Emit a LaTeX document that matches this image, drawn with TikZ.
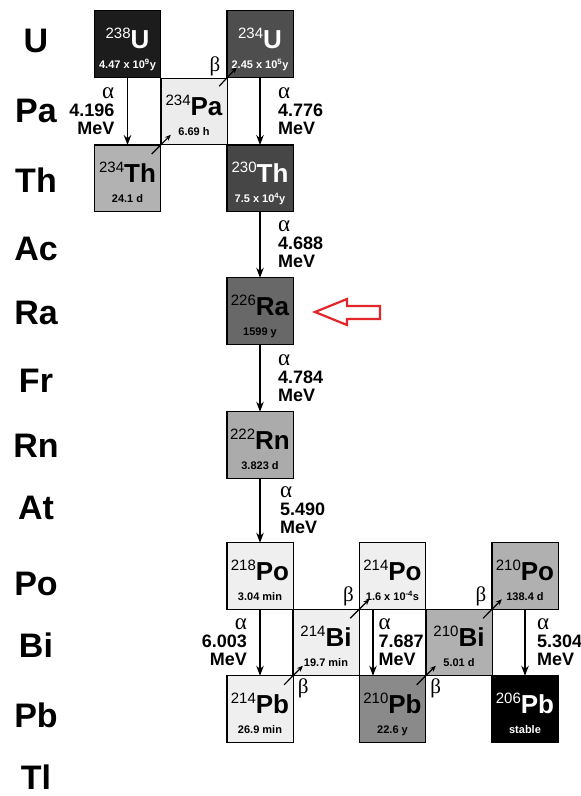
\documentclass[tikz,border=0pt]{standalone}
\usepackage{fontspec}
\setmainfont{Liberation Sans}
\newfontfamily\tms{Liberation Serif}
\usetikzlibrary{arrows.meta,calc}
\definecolor{cUa}{HTML}{1C1C1C}
\definecolor{cUb}{HTML}{4E4E4E}
\definecolor{cPa}{HTML}{ECECEC}
\definecolor{cTha}{HTML}{B2B2B2}
\definecolor{cThb}{HTML}{464646}
\definecolor{cRa}{HTML}{686868}
\definecolor{cRn}{HTML}{ABABAB}
\definecolor{cLight}{HTML}{EFEFEF}
\definecolor{cPbb}{HTML}{8A8A8A}
\definecolor{cMid}{HTML}{B0B0B0}
\definecolor{cRed}{HTML}{E3262A}
\newcommand\nuc[3]{\vbox to 66pt{\offinterlineskip\kern37pt
  \hbox to66pt{\hss\smash{\raisebox{10pt}{\fontsize{15}{15}\selectfont\mdseries#1}\fontsize{26}{26}\selectfont\bfseries #2}\hss}\kern20pt
  \hbox to66pt{\hss\smash{\fontsize{11}{11}\selectfont\bfseries#3}\hss}\vss}}
\newcommand\alp{{\tms\mdseries\fontsize{23}{18}\selectfont α}}
\begin{document}
\begin{tikzpicture}[x=1pt,y=-1pt,
  nbox/.style={draw, line width=1.3pt, inner sep=0pt, outer sep=0pt, minimum width=66.3pt, minimum height=66.5pt},
  elname/.style={font=\fontsize{34}{34}\selectfont\bfseries, anchor=base, inner sep=0pt},
  alphaarr/.style={line width=1.2pt, -{Stealth[length=10pt,width=7.5pt]}},
  betaarr/.style={line width=1.2pt, -{Stealth[length=6pt,width=5pt]}},
  enR/.style={anchor=west, align=left, inner sep=0pt, font=\fontsize{18}{18}\selectfont\bfseries},
  enL/.style={anchor=east, align=right, inner sep=0pt, font=\fontsize{18}{18}\selectfont\bfseries},
  betalab/.style={inner sep=0pt, font=\tms\fontsize{21}{21}\selectfont}]
\useasboundingbox (0,0) rectangle (581,796);
% element names
\node[elname] (lU)  at (36,52.5) {U};
\node[elname] (lPa) at (36,122.5) {Pa};
\node[elname] (lTh) at (36,192.5) {Th};
\node[elname] (lAc) at (36,260.5) {Ac};
\node[elname] (lRa) at (36,324.5) {Ra};
\node[elname] (lFr) at (36,392.5) {Fr};
\node[elname] (lRn) at (36,457.5) {Rn};
\node[elname] (lAt) at (36,519.5) {At};
\node[elname] (lPo) at (36,595) {Po};
\node[elname] (lBi) at (36,657.5) {Bi};
\node[elname] (lPb) at (36,727) {Pb};
\node[elname] (lTl) at (36,789) {Tl};
% nuclide boxes
\node[nbox, fill=cUa, text=white] (u238) at (127.5,44) {\nuc{238}{U}{4.47 x 10\textsuperscript{9}y}};
\node[nbox, fill=cPa] (pa234) at (194,111.5) {\nuc{234}{Pa}{6.69 h}};
\node[nbox, fill=cUb, text=white] (u234) at (260,44) {\nuc{234}{U}{2.45 x 10\textsuperscript{5}y}};
\node[nbox, fill=cTha] (th234) at (127.5,178.3) {\nuc{234}{Th}{24.1 d}};
\node[nbox, fill=cThb, text=white] (th230) at (260,178.3) {\nuc{230}{Th}{7.5 x 10\textsuperscript{4}y}};
\node[nbox, fill=cRa] (ra226) at (260,311) {\nuc{226}{Ra}{1599 y}};
\node[nbox, fill=cRn] (rn222) at (260,445) {\nuc{222}{Rn}{3.823 d}};
\node[nbox, fill=cLight] (po218) at (260,576) {\nuc{218}{Po}{3.04 min}};
\node[nbox, fill=cLight] (bi214) at (326,642.5) {\nuc{214}{Bi}{19.7 min}};
\node[nbox, fill=cLight] (pb214) at (260,709) {\nuc{214}{Pb}{26.9 min}};
\node[nbox, fill=cLight] (po214) at (392.5,576) {\nuc{214}{Po}{1.6 x 10\textsuperscript{-4}s}};
\node[nbox, fill=cPbb] (pb210) at (392.5,709) {\nuc{210}{Pb}{22.6 y}};
\node[nbox, fill=cMid] (bi210) at (459,642.5) {\nuc{210}{Bi}{5.01 d}};
\node[nbox, fill=cMid] (po210) at (525,576) {\nuc{210}{Po}{138.4 d}};
\node[nbox, fill=black, text=white] (pb206) at (525,709) {\nuc{206}{Pb}{stable}};
% alpha decays
\draw[alphaarr] (u238.south) -- (th234.north);
\draw[alphaarr] (u234.south) -- (th230.north);
\draw[alphaarr] (th230.south) -- (ra226.north);
\draw[alphaarr] (ra226.south) -- (rn222.north);
\draw[alphaarr] (rn222.south) -- (po218.north);
\draw[alphaarr] (po218.south) -- (pb214.north);
\draw[alphaarr] ([xshift=-19.5pt]po214.south) -- ([xshift=-19.5pt]pb210.north);
\draw[alphaarr] (po210.south) -- (pb206.north);
\node[enL, xshift=-13pt] (e1) at ($(u238.south)!.5!(th234.north)$) {\alp\\4.196\\MeV};
\node[enR, xshift=18pt] (e2) at ($(u234.south)!.5!(th230.north)$) {\alp\\4.776\\MeV};
\node[enR, xshift=18pt] (e3) at ($(th230.south)!.5!(ra226.north)$) {\alp\\4.688\\MeV};
\node[enR, xshift=18pt] (e4) at ($(ra226.south)!.5!(rn222.north)$) {\alp\\4.784\\MeV};
\node[enR, xshift=20pt] (e5) at ($(rn222.south)!.5!(po218.north)$) {\alp\\5.490\\MeV};
\node[enL, xshift=-13pt] (e6) at ($(po218.south)!.5!(pb214.north)$) {\alp\\6.003\\MeV};
\node[enR, xshift=-14pt] (e7) at ($(po214.south)!.5!(pb210.north)$) {\alp\\7.687\\MeV};
\node[enR, xshift=12pt] (e8) at ($(po210.south)!.5!(pb206.north)$) {\alp\\5.304\\MeV};
% beta decays
\draw[betaarr] ([shift={(-9,9)}]th234.north east) -- ([shift={(10,-10)}]pa234.south west);
\draw[betaarr] ([shift={(-8,8)}]pa234.north east) -- ([shift={(10,-10)}]u234.south west);
\draw[betaarr] ([shift={(-9,9)}]pb214.north east) -- ([shift={(10,-10)}]bi214.south west);
\draw[betaarr] ([shift={(-9,9)}]bi214.north east) -- ([shift={(10,-10)}]po214.south west);
\draw[betaarr] ([shift={(-9,9)}]pb210.north east) -- ([shift={(10,-10)}]bi210.south west);
\draw[betaarr] ([shift={(-9,9)}]bi210.north east) -- ([shift={(10,-10)}]po210.south west);
\node[betalab] (b1) at ([shift={(-12,-11)}]u234.south west) {β};
\node[betalab] (b2) at ([shift={(10,13)}]pb214.north east) {β};
\node[betalab] (b3) at ([shift={(-11,-13)}]po214.south west) {β};
\node[betalab] (b4) at ([shift={(10,13)}]pb210.north east) {β};
\node[betalab] (b5) at ([shift={(-11,-13)}]po210.south west) {β};
% red pointer
\draw[cRed, line width=2.2pt, line join=miter, fill=white] (315,312) -- (347,299) -- (347,306) -- (380,306) -- (380,319) -- (347,319) -- (347,325) -- cycle;
\end{tikzpicture}
\end{document}
